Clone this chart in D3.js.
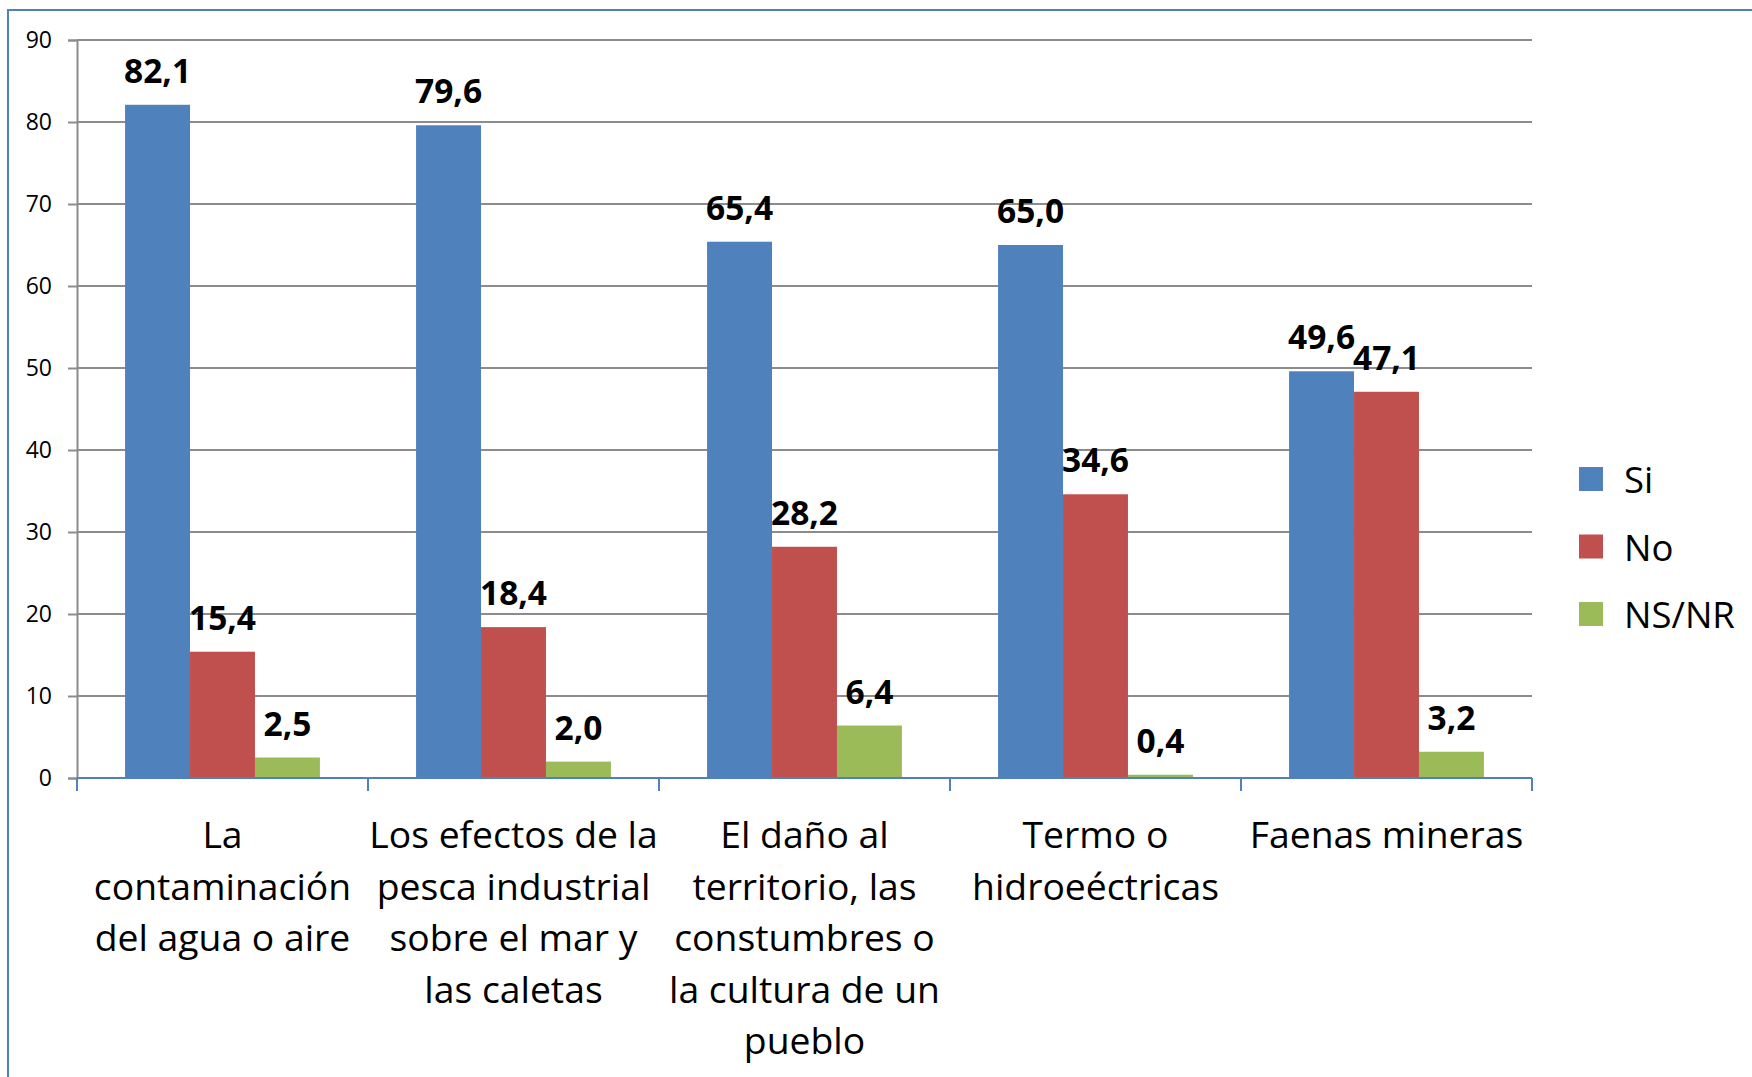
<!DOCTYPE html>
<html>
<head>
<meta charset="utf-8">
<script src="https://cdn.jsdelivr.net/npm/d3@7"></script>
<style>
  body { margin: 0; background: #fff; }
  text { font-family: "Open Sans", Lato, sans-serif; }
</style>
</head>
<body>
<svg id="chart"></svg>
<script>
var categories = ["cat1", "cat2", "cat3", "cat4", "cat5"];
var categoryLines = [
    ["La", "contaminación", "del agua o aire"],
    ["Los efectos de la", "pesca industrial", "sobre el mar y", "las caletas"],
    ["El daño al", "territorio, las", "constumbres o", "la cultura de un", "pueblo"],
    ["Termo o", "hidroeéctricas"],
    ["Faenas mineras"]
];
var series = ["Si", "No", "NS/NR"];
var siValues = [82.1, 79.6, 65.4, 65.0, 49.6];
var noValues = [15.4, 18.4, 28.2, 34.6, 47.1];
var nsnrValues = [2.5, 2.0, 6.4, 0.4, 3.2];
var yTicks = [0, 10, 20, 30, 40, 50, 60, 70, 80, 90];
var colors = ["#4F81BD", "#C0504D", "#9BBB59"];

var width = 1752, height = 1077;
var margin = { top: 40, left: 77, right: 220, bottom: 299 };
var w = width - margin.left - margin.right;
var h = height - margin.top - margin.bottom;

var svg = d3.select("#chart")
    .attr("width", width)
    .attr("height", height);

// outer frame (cut off on right and bottom)
svg.append("rect")
    .attr("x", 8)
    .attr("y", 10)
    .attr("width", 1800)
    .attr("height", 1200)
    .style("fill", "none")
    .style("stroke", "#4F81BD")
    .style("stroke-width", 2);

var g = svg.append("g")
    .attr("transform", "translate(" + margin.left + "," + margin.top + ")");

var x0 = d3.scaleBand().domain(categories).range([0, w]).padding(0);
var x1 = d3.scaleBand().domain(series).range([0, x0.bandwidth()])
    .paddingInner(0).paddingOuter(0.74);
var y = d3.scaleLinear().domain([0, 90]).range([h, 0]);

// gridlines
g.selectAll("line.ygrid")
    .data(yTicks.filter(function (d) { return d > 0; }))
    .enter()
    .append("line")
    .attr("class", "ygrid")
    .attr("x1", 0)
    .attr("x2", w)
    .attr("y1", function (d) { return y(d); })
    .attr("y2", function (d) { return y(d); })
    .attr("stroke", "#8c8c8c")
    .attr("stroke-width", 2);

// y axis
var yaxis = d3.axisLeft(y).tickValues(yTicks).tickSize(9).tickPadding(16)
    .tickFormat(d3.format("d"));
var yg = g.append("g").attr("class", "y-axis").call(yaxis);
yg.select(".domain").attr("stroke", "#8c8c8c").attr("stroke-width", 2);
yg.selectAll(".tick line").attr("stroke", "#8c8c8c").attr("stroke-width", 2);
yg.selectAll(".tick text")
    .style("font-size", "23px")
    .style("font-family", "'Open Sans', sans-serif")
    .attr("fill", "#000");

// bars
var rows = categories.map(function (c, i) {
    return { cat: c, vals: [siValues[i], noValues[i], nsnrValues[i]] };
});
var groups = g.selectAll("g.cat")
    .data(rows)
    .enter()
    .append("g")
    .attr("class", "cat")
    .attr("transform", function (d) { return "translate(" + x0(d.cat) + ",0)"; });

groups.selectAll("rect")
    .data(function (d) { return d.vals.map(function (v, j) { return { s: series[j], v: v, j: j }; }); })
    .enter()
    .append("rect")
    .attr("x", function (d) { return x1(d.s); })
    .attr("width", x1.bandwidth())
    .attr("y", function (d) { return y(d.v); })
    .attr("height", function (d) { return h - y(d.v); })
    .attr("fill", function (d) { return colors[d.j]; });

groups.selectAll("text.val")
    .data(function (d) { return d.vals.map(function (v, j) { return { s: series[j], v: v, j: j }; }); })
    .enter()
    .append("text")
    .attr("class", "val")
    .attr("x", function (d) { return x1(d.s) + x1.bandwidth() / 2; })
    .attr("y", function (d) { return y(d.v) - 22; })
    .attr("text-anchor", "middle")
    .style("font-size", "33.5px")
    .style("font-weight", "bold")
    .text(function (d) { return d.v.toFixed(1).replace(".", ","); });

// x axis
g.append("line")
    .attr("x1", 0).attr("x2", w)
    .attr("y1", h).attr("y2", h)
    .attr("stroke", "#4F81BD")
    .attr("stroke-width", 2);
var bounds = categories.map(function (c) { return x0(c); }).concat([w]);
g.selectAll("line.xtick")
    .data(bounds)
    .enter()
    .append("line")
    .attr("class", "xtick")
    .attr("x1", function (d) { return d; })
    .attr("x2", function (d) { return d; })
    .attr("y1", h)
    .attr("y2", h + 13)
    .attr("stroke", "#4F81BD")
    .attr("stroke-width", 2);

// category labels
var lab = g.selectAll("text.cat")
    .data(rows)
    .enter()
    .append("text")
    .attr("class", "cat")
    .attr("x", function (d) { return x0(d.cat) + x0.bandwidth() / 2; })
    .attr("y", h + 70)
    .attr("text-anchor", "middle")
    .style("font-size", "37.3px");
lab.selectAll("tspan")
    .data(function (d, i) { return categoryLines[i]; })
    .enter()
    .append("tspan")
    .attr("x", function () { return +d3.select(this.parentNode).attr("x"); })
    .attr("dy", function (d, i) { return i === 0 ? 0 : 51.5; })
    .text(function (d) { return d; });

// legend
var legend = svg.append("g").attr("transform", "translate(1579,467)");
var li = legend.selectAll("g")
    .data(series)
    .enter()
    .append("g")
    .attr("transform", function (d, i) { return "translate(0," + (i * 67.5) + ")"; });
li.append("rect")
    .attr("width", 24)
    .attr("height", 24)
    .attr("fill", function (d, i) { return colors[i]; });
li.append("text")
    .attr("x", 45)
    .attr("y", 26)
    .style("font-size", "36.5px")
    .text(function (d) { return d; });
</script>
</body>
</html>
